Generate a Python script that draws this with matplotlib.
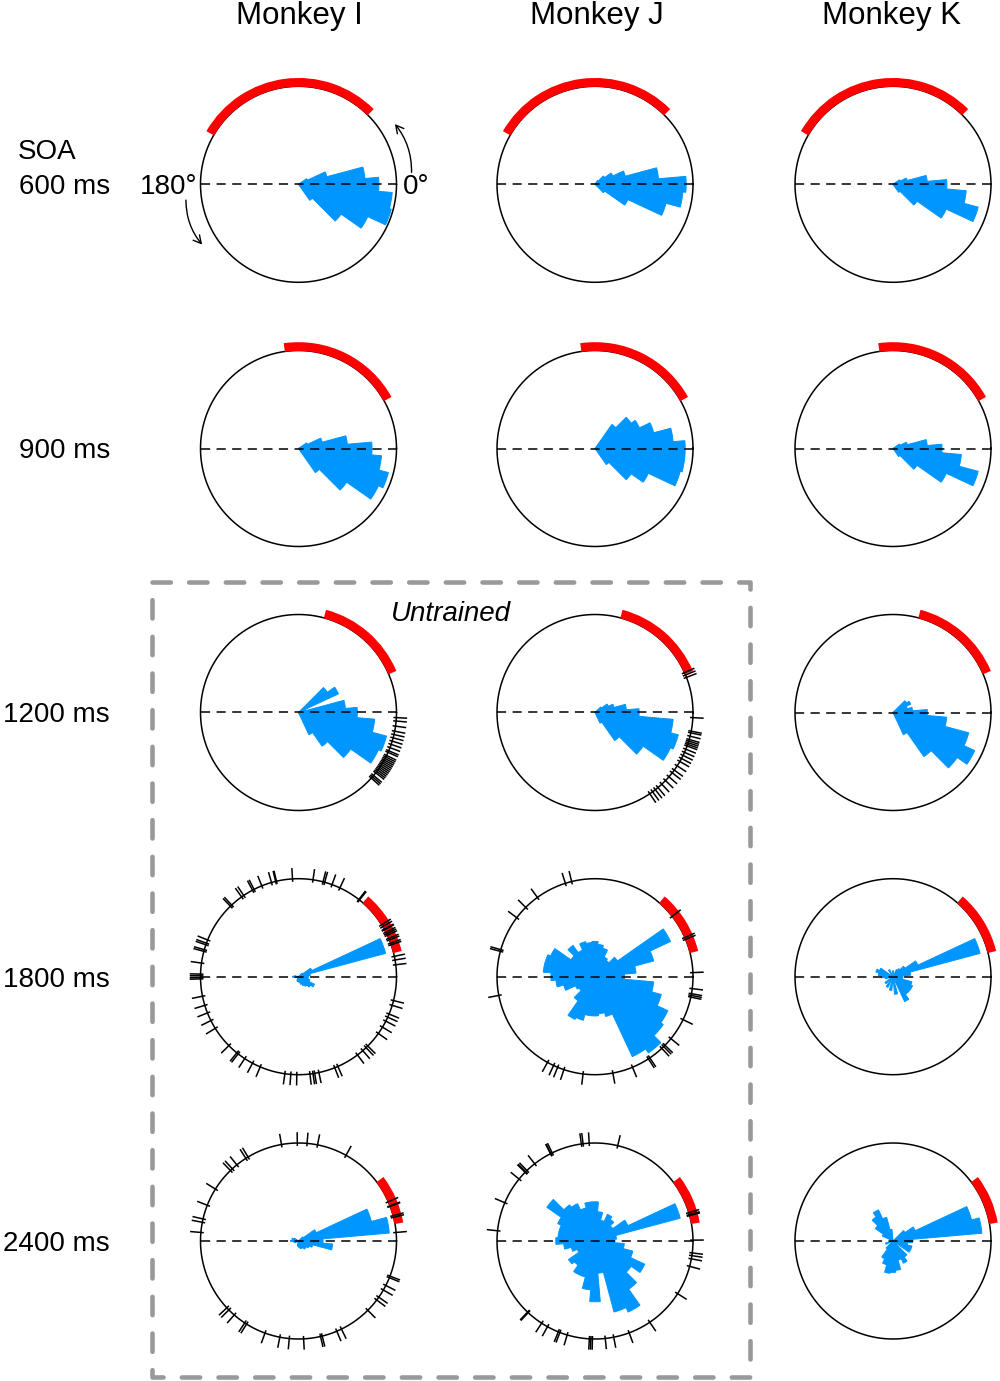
import numpy as np
import matplotlib
matplotlib.use('Agg')
import matplotlib.pyplot as plt
from matplotlib.lines import Line2D

plt.rcParams['font.family'] = ['Liberation Sans', 'DejaVu Sans']

# ---------------- data ----------------
monkeys = ['Monkey I', 'Monkey J', 'Monkey K']
soa_labels = ['600 ms', '900 ms', '1200 ms', '1800 ms', '2400 ms']
bin_deg = np.arange(0, 360, 10)   # rose-histogram bin centres (deg)

# relative bar lengths (fraction of circle radius), bins 0..350 deg
rose_600_I = [0.82, 0.68, 0.30, 0.10, 0, 0, 0, 0, 0,
              0, 0, 0, 0, 0, 0, 0, 0, 0,
              0, 0, 0, 0, 0, 0, 0, 0, 0,
              0, 0, 0, 0, 0.20, 0.53, 0.78, 0.98, 0.96]
rose_600_J = [0.93, 0.65, 0.32, 0.20, 0.12, 0.05, 0, 0, 0,
              0, 0, 0, 0, 0, 0, 0, 0, 0,
              0, 0, 0, 0, 0, 0, 0, 0, 0,
              0, 0, 0, 0, 0, 0.12, 0.37, 0.75, 0.90]
rose_600_K = [0.55, 0.35, 0.15, 0.08, 0, 0, 0, 0, 0,
              0, 0, 0, 0, 0, 0, 0, 0, 0,
              0, 0, 0, 0, 0, 0, 0, 0, 0,
              0, 0, 0, 0, 0.10, 0.30, 0.60, 0.90, 0.75]
rose_900_I = [0.75, 0.50, 0.25, 0.10, 0, 0, 0, 0, 0,
              0, 0, 0, 0, 0, 0, 0, 0, 0,
              0, 0, 0, 0, 0, 0, 0, 0, 0,
              0, 0, 0, 0, 0.30, 0.60, 0.90, 0.95, 0.85]
rose_900_J = [0.92, 0.80, 0.62, 0.50, 0.45, 0.30, 0, 0, 0,
              0, 0, 0, 0, 0, 0, 0, 0, 0,
              0, 0, 0, 0, 0, 0, 0, 0, 0,
              0, 0, 0, 0, 0.20, 0.45, 0.60, 0.90, 0.92]
rose_900_K = [0.50, 0.35, 0.15, 0.08, 0, 0, 0, 0, 0,
              0, 0, 0, 0, 0, 0, 0, 0, 0,
              0, 0, 0, 0, 0, 0, 0, 0, 0,
              0, 0, 0, 0, 0.10, 0.30, 0.60, 0.90, 0.70]
rose_1200_I = [0.60, 0.48, 0.08, 0.45, 0.36, 0, 0, 0, 0,
               0, 0, 0, 0, 0, 0, 0, 0, 0,
               0, 0, 0, 0, 0, 0, 0, 0, 0,
               0, 0, 0, 0.25, 0.42, 0.65, 0.90, 0.93, 0.78]
rose_1200_J = [0.45, 0.32, 0.20, 0.15, 0.08, 0, 0, 0, 0,
               0, 0, 0, 0, 0, 0, 0, 0, 0,
               0, 0, 0, 0, 0, 0, 0, 0, 0,
               0, 0, 0, 0.12, 0.35, 0.60, 0.85, 0.88, 0.80]
rose_1200_K = [0.35, 0.20, 0.15, 0.20, 0.17, 0, 0, 0, 0,
               0, 0, 0, 0, 0, 0, 0, 0, 0,
               0, 0, 0, 0, 0, 0, 0, 0, 0,
               0, 0, 0, 0.25, 0.55, 0.80, 0.92, 0.80, 0.55]
rose_1800_I = [0.10, 0.12, 0.92, 0.15, 0.05, 0, 0, 0, 0,
               0, 0, 0, 0, 0, 0, 0, 0, 0.04,
               0.06, 0.04, 0, 0, 0, 0, 0, 0.04, 0.05,
               0.05, 0.06, 0.08, 0.10, 0.12, 0.15, 0.18, 0.12, 0.10]
rose_1800_J = [0.30, 0.42, 0.62, 0.85, 0.28, 0.20, 0.22, 0.30, 0.33,
               0.36, 0.35, 0.37, 0.30, 0.39, 0.30, 0.50, 0.53, 0.53,
               0.45, 0.40, 0.33, 0.22, 0.20, 0.30, 0.48, 0.46, 0.40,
               0.40, 0.38, 0.42, 0.90, 0.95, 0.85, 0.82, 0.70, 0.60]
rose_1800_K = [0.10, 0.18, 0.92, 0.28, 0.15, 0.10, 0.08, 0, 0,
               0.06, 0, 0, 0.08, 0, 0, 0.15, 0.18, 0.15,
               0.12, 0.08, 0, 0, 0.10, 0, 0.12, 0, 0.14,
               0, 0.18, 0, 0.28, 0.22, 0.22, 0.22, 0.20, 0.10]
rose_2400_I = [0.25, 0.93, 0.77, 0.20, 0.06, 0, 0, 0, 0,
               0, 0, 0, 0, 0, 0, 0.05, 0.07, 0.05,
               0.08, 0.05, 0.04, 0, 0, 0, 0, 0, 0.05,
               0.06, 0.07, 0.08, 0.08, 0.10, 0.10, 0.12, 0.15, 0.35]
rose_2400_J = [0.20, 0.22, 0.90, 0.37, 0.22, 0.27, 0.30, 0.22, 0.30,
               0.40, 0.40, 0.35, 0.42, 0.45, 0.60, 0.42, 0.38, 0.38,
               0.40, 0.32, 0.25, 0.20, 0.33, 0.30, 0.38, 0.38, 0.50,
               0.62, 0.33, 0.75, 0.80, 0.60, 0.45, 0.56, 0.40, 0.30]
rose_2400_K = [0.20, 0.91, 0.83, 0.25, 0.15, 0, 0, 0, 0,
               0, 0.12, 0.25, 0.35, 0.30, 0.22, 0.12, 0, 0,
               0, 0, 0.08, 0, 0, 0.10, 0.20, 0.25, 0.33,
               0.32, 0.30, 0.20, 0.25, 0.20, 0, 0.20, 0.20, 0.15]

# red target-window arcs (start deg, end deg) per SOA row
target_600 = (45, 150)
target_900 = (29, 98)
target_1200 = (23, 75)
target_1800 = (14, 49)
target_2400 = (10, 37)

# black rug ticks (individual session phases, deg)
rug_1200_I = [-3, -5, -8, -11, -13, -15, -17, -19, -21, -23, -24, -26, -27, -28,
              -29, -30, -31, -32, -33, -34, -35, -36, -37, -38, -40, -41, -42]
rug_1200_J = [21, 22.5, 24, -3, -11, -12, -14, -16, -17, -18, -19, -20, -22, -24,
              -26, -28, -30, -33, -36, -38, -41, -44, -47, -50, -52, -54, -56]
rug_1800_I = [93.5, 81.5, 75.5, 74.5, 70, 65, 52, 51.5, 103, 103.5, 106, 112, 117,
              118, 124, 125.5, 133, 134, 158, 160, 161, 164, 165, 172, 178.5, 179.5,
              180.5, 181.3, 191.5, 197, 201.7, 206.6, 211.8, 224.7, 231, 232, 236.7,
              242, 247, 262, 265.5, 269, 276.7, 278.5, 279.5, 282, 291.7, 293.7, 307,
              311, 313.6, 315, 324.6, 329, 333, 335.6, 337.6, 343, 345.9, 7, 9.8, 12,
              19, 20, 22, 23, 25, 26, 27, 28.6, 29, 30.7, 32]
rug_1800_J = [107.6, 103.8, 126, 135, 143, 164, 165, 191, 241, 245, 247.6, 251.5,
              263, 280.5, 292.5, 303, 304, 313, 314.5, 315.6, 320.8, 334, 348, 349,
              350, 353, 2.4, 38, 23.6, 22.4]
rug_2400_I = [100, 90.7, 85, 78.8, 61, 121, 122.5, 129, 132.5, 134, 148, 158.6, 167,
              169, 175, 223, 224.7, 229, 236.7, 238, 250, 259, 264.6, 273, 283, 284,
              293, 296, 315, 323, 325, 330, 333, 338, 339, 5, 14, 15, 20.7, 21, 23.6]
rug_2400_J = [98, 97, 93.4, 76.6, 117, 116.8, 115.9, 128, 135, 135.5, 134, 140.8,
              157, 174, 0.5, -7, -8.6, -10.5, -15, -32.5, -56, -69.6, -79, -84,
              -92.4, -91.5, -93.3, -106.5, -111, -112, -119, -123, -133, -133.5,
              16.8, 15.6, 15]

roses = [[rose_600_I, rose_600_J, rose_600_K],
         [rose_900_I, rose_900_J, rose_900_K],
         [rose_1200_I, rose_1200_J, rose_1200_K],
         [rose_1800_I, rose_1800_J, rose_1800_K],
         [rose_2400_I, rose_2400_J, rose_2400_K]]
targets = [target_600, target_900, target_1200, target_1800, target_2400]
rugs = {(2, 0): rug_1200_I, (2, 1): rug_1200_J,
        (3, 0): rug_1800_I, (3, 1): rug_1800_J,
        (4, 0): rug_2400_I, (4, 1): rug_2400_J}

# ---------------- style / layout ----------------
BLUE = '#0096FF'
RED = '#FF0000'
W, H = 1000, 1381
R = 98.0
RMAX = 1.2
col_cx = [298.5, 595.0, 893.0]
row_cy = [184.3, 448.5, 712.5, 976.7, 1241.0]

fig = plt.figure(figsize=(W / 100, H / 100), dpi=100)

theta_circle = np.linspace(0, 2 * np.pi, 721)
axes = {}
for r_i, cy in enumerate(row_cy):
    for c_i, cx in enumerate(col_cx):
        size = 2 * R * RMAX
        ax = fig.add_axes([(cx - size / 2) / W, 1 - (cy + size / 2) / H,
                           size / W, size / H], projection='polar')
        ax.set_ylim(0, RMAX)
        ax.set_axis_off()
        axes[(r_i, c_i)] = ax
        # rose histogram
        ax.bar(np.deg2rad(bin_deg), roses[r_i][c_i], width=np.deg2rad(10),
               bottom=0, color=BLUE, edgecolor=BLUE, linewidth=0.7, zorder=2)
        # dashed horizontal line
        ax.plot([np.pi, np.pi, 0, 0], [1, 0, 0, 1], color='black', lw=1.1,
                dashes=(6.0, 4.2), zorder=3)
        # circle
        ax.plot(theta_circle, np.ones_like(theta_circle), color='black',
                lw=1.1, zorder=4)
        # red target arc
        a0, a1 = targets[r_i]
        ax.bar(np.deg2rad((a0 + a1) / 2), 0.09, width=np.deg2rad(a1 - a0),
               bottom=0.995, color=RED, linewidth=0, zorder=5)
        # rug ticks
        if (r_i, c_i) in rugs:
            ax.vlines(np.deg2rad(rugs[(r_i, c_i)]), 0.97, 1.11, color='black',
                      lw=1.1, zorder=6)

# angle labels and direction arrows on the first panel
ax0 = axes[(0, 0)]
ax0.text(0, 1.06, '0°', ha='left', va='center_baseline', fontsize=20, clip_on=False)
ax0.text(np.pi, 1.03, '180°', ha='right', va='center_baseline', fontsize=20,
         clip_on=False)
arrow_style = '->,head_length=0.55,head_width=0.3'
ax0.annotate('', xy=(np.deg2rad(32), 1.16), xytext=(np.deg2rad(6), 1.16),
             arrowprops=dict(arrowstyle=arrow_style, lw=1.0, color='black',
                             connectionstyle='arc3,rad=0.18',
                             shrinkA=0, shrinkB=0), annotation_clip=False)
ax0.annotate('', xy=(np.deg2rad(212), 1.16), xytext=(np.deg2rad(188), 1.16),
             arrowprops=dict(arrowstyle=arrow_style, lw=1.0, color='black',
                             connectionstyle='arc3,rad=0.18',
                             shrinkA=0, shrinkB=0), annotation_clip=False)

# column titles
title_x = [299, 597, 892]
for name, x in zip(monkeys, title_x):
    fig.text(x / W, 1 - 16 / H, name, ha='center', va='center', fontsize=22.5)

# row labels
fig.text(18 / W, 1 - 149 / H, 'SOA', ha='left', va='center_baseline', fontsize=20)
for lab, cy in zip(soa_labels, row_cy):
    fig.text(110 / W, 1 - cy / H, lab, ha='right', va='center_baseline', fontsize=20)

# untrained box
x0, x1 = 152 / W, 750 / W
y0, y1 = 1 - 582 / H, 1 - 1377 / H
box = Line2D([x0, x1, x1, x0, x0], [y0, y0, y1, y1, y0], transform=fig.transFigure,
             color='#999999', lw=3.3, dashes=(4.0, 4.0),
             dash_capstyle='round', solid_capstyle='round')
fig.add_artist(box)
fig.text(451 / W, 1 - 614 / H, 'Untrained', ha='center', va='center',
         fontsize=20, style='italic')

fig.savefig('out.png', dpi=100)
